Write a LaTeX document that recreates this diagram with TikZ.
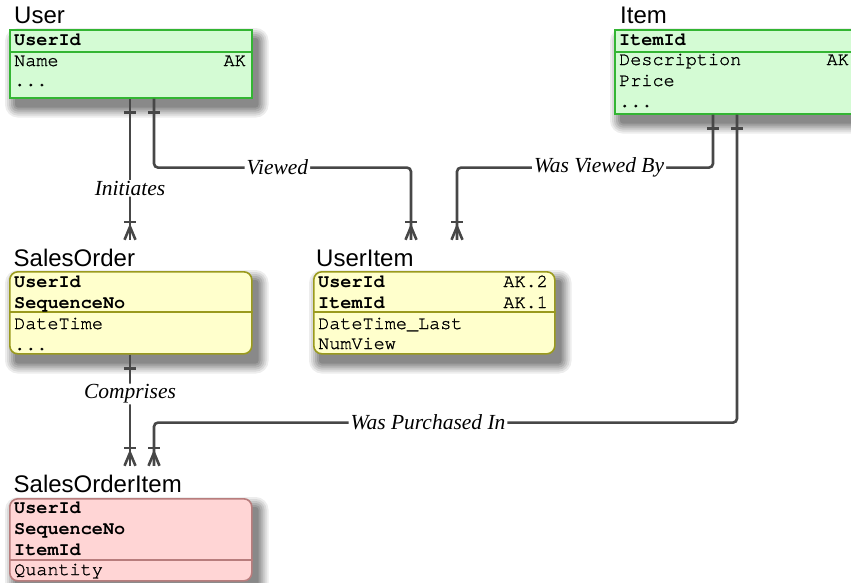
\documentclass[tikz,border=0pt]{standalone}
\usepackage{fontspec}
\setmainfont{Liberation Serif}
\setsansfont{Liberation Sans}
\setmonofont{TeX Gyre Cursor}
\newfontfamily\monoreg{TeX Gyre Cursor}[FakeBold=1.2]
\usetikzlibrary{calc}
\pgfdeclarelayer{bgw}
\pgfdeclarelayer{bg}
\pgfsetlayers{bgw,bg,main}
\definecolor{gfill}{HTML}{D4FBD4}
\definecolor{gdraw}{HTML}{33B533}
\definecolor{yfill}{HTML}{FFFFCC}
\definecolor{ydraw}{HTML}{9A9A1E}
\definecolor{pfill}{HTML}{FFD5D5}
\definecolor{pdraw}{HTML}{B87D7D}
\definecolor{conn}{HTML}{474747}
\newcommand\eshadow[1]{%
  \begin{pgfonlayer}{bg}
  \foreach \r/\o in {10/0.07,8/0.08,6/0.09,4/0.10,2/0.11,0/0.12}{%
    \fill[black, opacity=\o, rounded corners=\r pt+3pt]
      ($(#1.north west)+(6-\r,9-\r)$) rectangle ($(#1.south east)+(6+\r,9+\r)$);}
  \end{pgfonlayer}}
\begin{document}
\begin{tikzpicture}[x=1pt,y=-1pt,
  ent/.style={anchor=north west, inner sep=0pt, line width=1.6pt},
  gent/.style={ent, fill=gfill, draw=gdraw},
  yent/.style={ent, fill=yfill, draw=ydraw, rounded corners=8pt},
  pent/.style={ent, fill=pfill, draw=pdraw, rounded corners=8pt},
  ttl/.style={anchor=base west, inner xsep=0pt, inner ysep=9pt, text height=17pt, text depth=5pt,
    font=\fontsize{24}{27}\selectfont\sffamily},
  fld/.style={anchor=base west, inner sep=0pt, font=\fontsize{18.5}{21}\selectfont\monoreg},
  key/.style={fld, font=\fontsize{18.5}{21}\selectfont\ttfamily\bfseries},
  ak/.style={fld, anchor=base east},
  sep/.style={line width=1.4pt},
  rel/.style={draw=conn, line width=2.6pt, rounded corners=4pt},
  lbl/.style={fill=white, inner xsep=2pt, inner ysep=1pt, font=\fontsize{21.5}{25}\selectfont\itshape},
  one/.pic={\draw[rel] (-6,14) -- (6,14);},
  many/.pic={\draw[rel] (-6,-18) -- (6,-18); \draw[rel, rounded corners=0pt, line join=round] (-5.5,0) -- (0,-13) -- (5.5,0);}
]
\useasboundingbox (0,0) rectangle (851,582);
\begin{pgfonlayer}{bgw}
\fill[white] (0,0) rectangle (851,582);
\end{pgfonlayer}

% ---- User
\node[ttl] (usert) at (14,23) {User};
\node[gent, minimum width=242pt, minimum height=68pt] (user) at (9,29) {};
\eshadow{user}
\draw[gdraw, sep] ($(user.north west)+(0,23)$) -- ($(user.north east)+(0,23)$);
\node[key] (u1) at (14,45) {UserId};
\node[fld] (u2) at (14,66) {Name};
\node[ak]  (u2k) at (246,66) {AK};
\node[fld] (u3) at (14,86) {...};

% ---- Item
\node[ttl] (itemt) at (620,23) {Item};
\node[gent, minimum width=240pt, minimum height=84pt] (item) at (614,29) {};
\eshadow{item}
\draw[gdraw, sep] ($(item.north west)+(0,23)$) -- ($(item.north east)+(0,23)$);
\node[key] (i1) at (619,45) {ItemId};
\node[fld] (i2) at (619,65) {Description};
\node[ak]  (i2k) at (849,65) {AK};
\node[fld] (i3) at (619,86) {Price};
\node[fld] (i4) at (619,107) {...};

% ---- SalesOrder
\node[ttl] (sot) at (13.5,266) {SalesOrder};
\node[yent, minimum width=242pt, minimum height=82pt] (so) at (9,271) {};
\eshadow{so}
\draw[ydraw, sep] ($(so.north west)+(0,41)$) -- ($(so.north east)+(0,41)$);
\node[key] (s1) at (14,287) {UserId};
\node[key] (s2) at (14,308) {SequenceNo};
\node[fld] (s3) at (14,329) {DateTime};
\node[fld] (s4) at (14,350) {...};

% ---- UserItem
\node[ttl] (uit) at (316,266) {UserItem};
\node[yent, minimum width=241pt, minimum height=82pt] (ui) at (313,271) {};
\eshadow{ui}
\draw[ydraw, sep] ($(ui.north west)+(0,41)$) -- ($(ui.north east)+(0,41)$);
\node[key] (ui1) at (318,287) {UserId};
\node[ak]  (ui1k) at (548,287) {AK.2};
\node[key] (ui2) at (318,308) {ItemId};
\node[ak]  (ui2k) at (548,308) {AK.1};
\node[fld] (ui3) at (318,329) {DateTime\_Last};
\node[fld] (ui4) at (318,349) {NumView};

% ---- SalesOrderItem
\node[ttl] (soit) at (13.5,492) {SalesOrderItem};
\node[pent, minimum width=242pt, minimum height=82pt] (soi) at (9,498) {};
\eshadow{soi}
\draw[pdraw, sep] ($(soi.north west)+(0,62)$) -- ($(soi.north east)+(0,62)$);
\node[key] (p1) at (14,513) {UserId};
\node[key] (p2) at (14,534) {SequenceNo};
\node[key] (p3) at (14,555) {ItemId};
\node[fld] (p4) at (14,575) {Quantity};

% ---- levels of the horizontal runs
\coordinate (lvl) at ($(user.south)+(0,69)$);
\coordinate (lvl2) at ($(so.south)+(0,68)$);

% ---- Initiates
\coordinate (ini1) at ($(user.south west)+(121,0)$);
\draw[rel] (ini1) -- node[lbl,pos=.636] (lini) {Initiates} (ini1 |- sot.north) coordinate (ini2);
\pic at (ini1) {one}; \pic at (ini2) {many};

% ---- Viewed
\coordinate (vw1) at ($(user.south west)+(145,0)$);
\coordinate (vwB) at ($(ui.north west)+(98,0)$);
\draw[rel] (vw1) -- (vw1 |- lvl) -- node[lbl,pos=.48] (lvw) {Viewed} (vwB |- lvl) -- (vwB |- uit.north) coordinate (vw2);
\pic at (vw1) {one}; \pic at (vw2) {many};

% ---- Was Viewed By
\coordinate (wv1) at ($(item.south west)+(99,0)$);
\coordinate (wvB) at ($(ui.north west)+(144,0)$);
\draw[rel] (wv1) -- (wv1 |- lvl) -- node[lbl,pos=.445] (lwv) {Was Viewed By} (wvB |- lvl) -- (wvB |- uit.north) coordinate (wv2);
\pic at (wv1) {one}; \pic at (wv2) {many};

% ---- Was Purchased In
\coordinate (wp1) at ($(item.south west)+(123,0)$);
\coordinate (wpB) at ($(soi.north west)+(145,0)$);
\draw[rel] (wp1) -- (wp1 |- lvl2) -- node[lbl,pos=.53] (lwp) {Was Purchased In} (wpB |- lvl2) -- (wpB |- soit.north) coordinate (wp2);
\pic at (wp1) {one}; \pic at (wp2) {many};

% ---- Comprises
\coordinate (cm1) at ($(so.south west)+(121,0)$);
\draw[rel] (cm1) -- node[lbl,pos=.354] (lcm) {Comprises} (cm1 |- soit.north) coordinate (cm2);
\pic at (cm1) {one}; \pic at (cm2) {many};
\end{tikzpicture}
\end{document}
